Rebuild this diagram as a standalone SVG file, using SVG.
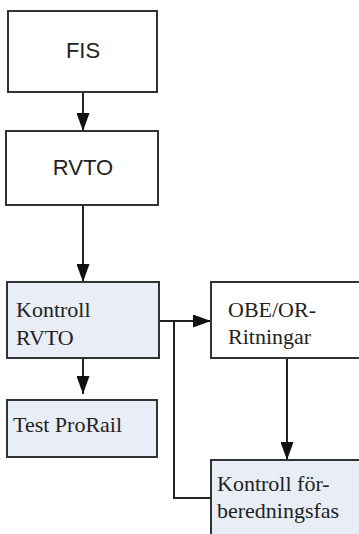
<svg xmlns="http://www.w3.org/2000/svg" width="359" height="534" viewBox="0 0 359 534">
<defs>
<style>
.box{stroke:#333;stroke-width:2}
.w{fill:#fff}
.b{fill:#e9eef6}
.sans{font-family:"Liberation Sans",Arial,sans-serif;font-size:22px;fill:#222}
.serif{font-family:"Liberation Serif","Times New Roman",serif;font-size:22px;fill:#222}
.con{stroke:#222;stroke-width:2;fill:none}
</style>
<marker id="ah" viewBox="0 0 18 13" refX="18" refY="6.5" markerWidth="18" markerHeight="13" markerUnits="userSpaceOnUse" orient="auto">
<path d="M0,0 L18,6.5 L0,13 Z" fill="#111"/>
</marker>
</defs>
<rect width="359" height="534" fill="#fff"/>
<g id="connectors">
<line class="con" x1="83" y1="92" x2="83" y2="131" marker-end="url(#ah)"/>
<line class="con" x1="83" y1="205" x2="83" y2="282" marker-end="url(#ah)"/>
<line class="con" x1="83" y1="358" x2="83" y2="394" marker-end="url(#ah)"/>
<line class="con" x1="159" y1="321" x2="211" y2="321" marker-end="url(#ah)"/>
<polyline class="con" points="174,321 174,498 211,498"/>
<line class="con" x1="287" y1="358" x2="287" y2="460" marker-end="url(#ah)"/>
</g>
<g id="fis">
<rect class="box w" x="8" y="11" width="149" height="81"/>
<text class="sans" x="83" y="58" text-anchor="middle">FIS</text>
</g>
<g id="rvto">
<rect class="box w" x="6" y="131" width="152" height="74"/>
<text class="sans" x="83" y="175" text-anchor="middle">RVTO</text>
</g>
<g id="kontroll-rvto">
<rect class="box b" x="7" y="282" width="152" height="76"/>
<text class="serif" x="16" y="317">Kontroll</text>
<text class="serif" x="16" y="345">RVTO</text>
</g>
<g id="test-prorail">
<rect class="box b" x="7" y="400" width="150" height="57"/>
<text class="serif" x="13" y="432">Test ProRail</text>
</g>
<g id="obe-or">
<rect class="box w" x="211" y="282" width="160" height="76"/>
<text class="serif" x="228" y="317">OBE/OR-</text>
<text class="serif" x="228" y="344">Ritningar</text>
</g>
<g id="kontroll-forberedningsfas">
<rect class="box b" x="211" y="460" width="160" height="90"/>
<text class="serif" x="217" y="491">Kontroll för-</text>
<text class="serif" x="217" y="518">beredningsfas</text>
</g>
</svg>
